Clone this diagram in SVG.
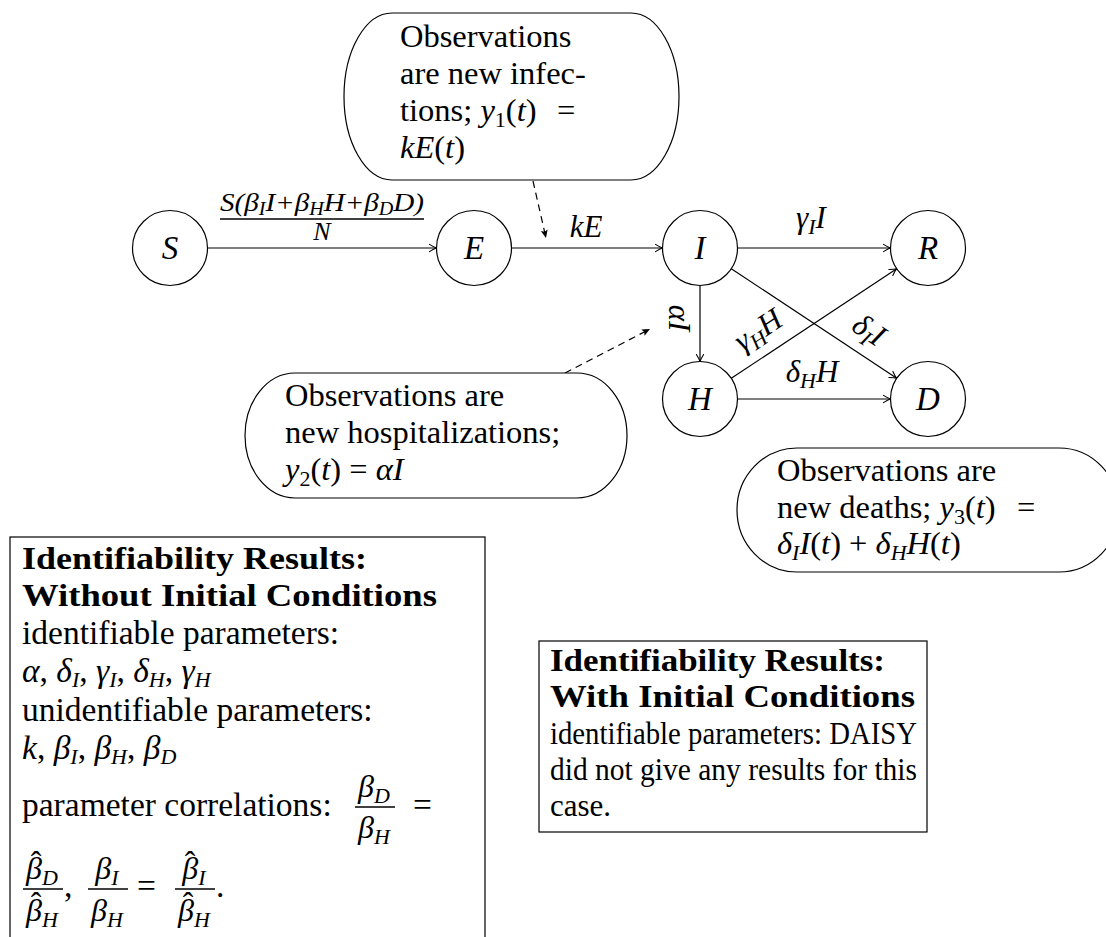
<svg xmlns="http://www.w3.org/2000/svg" width="1106" height="937" viewBox="0 0 1106 937">
<style>
text { font-family: "Liberation Serif", "Times New Roman", serif; fill: #000; }
.tx { font-size: 31px; }
.co { font-size: 32.5px; }
.b1 { font-size: 33.5px; }
.fx { font-size: 32px; }
.i { font-style: italic; }
.b { font-weight: bold; }
.sb { font-size: 22px; }
.nl { font-size: 33px; font-style: italic; text-anchor: middle; }
.el { font-size: 31px; font-style: italic; text-anchor: middle; }
.fr { font-size: 26px; font-style: italic; text-anchor: middle; }
.fs { font-size: 18px; }
.circ { fill: #fff; stroke: #000; stroke-width: 1.2; }
.shape { fill: #fff; stroke: #000; stroke-width: 1.2; }
.edge { fill: none; stroke: #000; stroke-width: 1.2; marker-end: url(#ah); }
.dash { fill: none; stroke: #000; stroke-width: 1.2; stroke-dasharray: 7 5; marker-end: url(#ahf); }
.bar { stroke: #000; stroke-width: 1.3; }
.ma { text-anchor: middle; }
</style>
<defs>
<marker id="ah" markerWidth="12" markerHeight="12" viewBox="-10 -6 12 12" refX="0" refY="0" orient="auto" markerUnits="userSpaceOnUse">
<path d="M-7,-3.6 Q-2.5,-0.8 0,0 Q-2.5,0.8 -7,3.6" fill="none" stroke="#000" stroke-width="1.1" stroke-linecap="round"/>
</marker>
<marker id="ahf" markerWidth="12" markerHeight="12" viewBox="-10 -6 12 12" refX="0" refY="0" orient="auto" markerUnits="userSpaceOnUse">
<path d="M0,0 L-8,-3.5 L-6.5,0 L-8,3.5 Z" fill="#000"/>
</marker>
</defs>
<rect width="1106" height="937" fill="#fff"/>

<g id="connectors">
<line class="edge" x1="207.5" y1="248" x2="436.5" y2="248"/>
<line class="edge" x1="511.5" y1="248" x2="662.5" y2="248"/>
<line class="edge" x1="737.5" y1="248" x2="890.5" y2="248"/>
<line class="edge" x1="700" y1="285.5" x2="700" y2="361.5"/>
<line class="edge" x1="737.5" y1="399" x2="890.5" y2="399"/>
<line class="edge" x1="731.3" y1="268.7" x2="896.7" y2="378.3"/>
<line class="edge" x1="731.3" y1="378.3" x2="896.7" y2="268.7"/>
<line class="dash" x1="533" y1="181" x2="546" y2="238"/>
<line class="dash" x1="565" y1="373" x2="650" y2="329"/>
<g id="edge-labels">
<text class="fr" x="322" y="211" textLength="204" lengthAdjust="spacingAndGlyphs">S(β<tspan class="fs" dy="4">I</tspan><tspan dy="-4">I+β</tspan><tspan class="fs" dy="4">H</tspan><tspan dy="-4">H+β</tspan><tspan class="fs" dy="4">D</tspan><tspan dy="-4">D)</tspan></text>
<line class="bar" x1="220" y1="219" x2="424" y2="219"/>
<text class="fr" x="322" y="240">N</text>
<text class="el" x="586" y="237">kE</text>
<text class="el" x="811" y="228">γ<tspan class="sb" dy="6">I</tspan><tspan dy="-6">I</tspan></text>
<text class="el" x="812" y="382">δ<tspan class="sb" dy="6">H</tspan><tspan dy="-6">H</tspan></text>
<text class="el" transform="translate(679,318) rotate(90)" x="0" y="10">αI</text>
<text class="el" transform="translate(758,330) rotate(-33.5)" x="0" y="10">γ<tspan class="sb" dy="6">H</tspan><tspan dy="-6">H</tspan></text>
<text class="el" transform="translate(869,330) rotate(33.5)" x="0" y="10">δ<tspan class="sb" dy="6">I</tspan><tspan dy="-6">I</tspan></text>
</g>
</g>

<g id="node-S"><circle class="circ" cx="170" cy="248" r="37.5"/><text class="nl" x="170" y="259">S</text></g>
<g id="node-E"><circle class="circ" cx="474" cy="248" r="37.5"/><text class="nl" x="474" y="259">E</text></g>
<g id="node-I"><circle class="circ" cx="700" cy="248" r="37.5"/><text class="nl" x="700" y="259">I</text></g>
<g id="node-R"><circle class="circ" cx="928" cy="248" r="37.5"/><text class="nl" x="928" y="259">R</text></g>
<g id="node-H"><circle class="circ" cx="700" cy="399" r="37.5"/><text class="nl" x="700" y="410">H</text></g>
<g id="node-D"><circle class="circ" cx="928" cy="399" r="37.5"/><text class="nl" x="928" y="410">D</text></g>

<g id="callout-infections">
<rect class="shape" x="344" y="13" width="335" height="167" rx="48" ry="83.5"/>
<text class="co" x="400" y="47">Observations</text>
<text class="co" x="400" y="84">are new infec-</text>
<text class="co" x="400" y="121">tions; <tspan class="i">y</tspan><tspan class="sb" dy="6">1</tspan><tspan dy="-6">(</tspan><tspan class="i">t</tspan>)</text>
<text class="co" x="557" y="121">=</text>
<text class="co" x="400" y="158"><tspan class="i">kE</tspan>(<tspan class="i">t</tspan>)</text>
</g>

<g id="callout-hospitalizations">
<rect class="shape" x="245" y="373" width="382" height="125" rx="50" ry="62.5"/>
<text class="co" x="285" y="406">Observations are</text>
<text class="co" x="285" y="443">new hospitalizations;</text>
<text class="co" x="285" y="480"><tspan class="i">y</tspan><tspan class="sb" dy="6">2</tspan><tspan dy="-6">(</tspan><tspan class="i">t</tspan>) = <tspan class="i">αI</tspan></text>
</g>

<g id="callout-deaths">
<rect class="shape" x="737" y="448" width="382" height="124" rx="60" ry="62"/>
<text class="co" x="777" y="481">Observations are</text>
<text class="co" x="777" y="518">new deaths; <tspan class="i">y</tspan><tspan class="sb" dy="6">3</tspan><tspan dy="-6">(</tspan><tspan class="i">t</tspan>)</text>
<text class="co" x="1017" y="518">=</text>
<text class="co" x="777" y="554"><tspan class="i">δ</tspan><tspan class="sb i" dy="6">I</tspan><tspan class="i" dy="-6">I</tspan>(<tspan class="i">t</tspan>) + <tspan class="i">δ</tspan><tspan class="sb i" dy="6">H</tspan><tspan class="i" dy="-6">H</tspan>(<tspan class="i">t</tspan>)</text>
</g>

<g id="box-without-ic">
<rect class="shape" x="10" y="537" width="475" height="420"/>
<text class="tx b" x="22" y="569" textLength="345" lengthAdjust="spacingAndGlyphs">Identifiability Results:</text>
<text class="tx b" x="22" y="606" textLength="415" lengthAdjust="spacingAndGlyphs">Without Initial Conditions</text>
<text class="b1" x="22" y="644">identifiable parameters:</text>
<text class="b1" x="22" y="682"><tspan class="i">α</tspan>, <tspan class="i">δ</tspan><tspan class="sb i" dy="5">I</tspan><tspan dy="-5">, </tspan><tspan class="i">γ</tspan><tspan class="sb i" dy="5">I</tspan><tspan dy="-5">, </tspan><tspan class="i">δ</tspan><tspan class="sb i" dy="5">H</tspan><tspan dy="-5">, </tspan><tspan class="i">γ</tspan><tspan class="sb i" dy="5">H</tspan></text>
<text class="b1" x="22" y="721">unidentifiable parameters:</text>
<text class="b1" x="22" y="759"><tspan class="i">k</tspan>, <tspan class="i">β</tspan><tspan class="sb i" dy="5">I</tspan><tspan dy="-5">, </tspan><tspan class="i">β</tspan><tspan class="sb i" dy="5">H</tspan><tspan dy="-5">, </tspan><tspan class="i">β</tspan><tspan class="sb i" dy="5">D</tspan></text>
<text class="b1" x="22" y="816">parameter correlations:</text>
<text class="fx ma" x="374" y="797"><tspan class="i">β</tspan><tspan class="sb i" dy="6">D</tspan></text>
<line class="bar" x1="355" y1="807" x2="395" y2="807"/>
<text class="fx ma" x="374" y="838"><tspan class="i">β</tspan><tspan class="sb i" dy="6">H</tspan></text>
<text class="b1" x="413" y="816">=</text>
<text class="fx ma"><tspan x="42" y="879"><tspan class="i">β</tspan><tspan class="sb i" dy="6">D</tspan></tspan><tspan x="36" y="873">ˆ</tspan></text>
<line class="bar" x1="23" y1="889" x2="63" y2="889"/>
<text class="fx ma"><tspan x="42" y="921"><tspan class="i">β</tspan><tspan class="sb i" dy="6">H</tspan></tspan><tspan x="36" y="914">ˆ</tspan></text>
<text class="b1" x="64" y="897">,</text>
<text class="fx ma" x="107" y="879"><tspan class="i">β</tspan><tspan class="sb i" dy="6">I</tspan></text>
<line class="bar" x1="88" y1="889" x2="128" y2="889"/>
<text class="fx ma" x="107" y="921"><tspan class="i">β</tspan><tspan class="sb i" dy="6">H</tspan></text>
<text class="b1" x="137" y="897">=</text>
<text class="fx ma"><tspan x="194" y="879"><tspan class="i">β</tspan><tspan class="sb i" dy="6">I</tspan></tspan><tspan x="190" y="873">ˆ</tspan></text>
<line class="bar" x1="175" y1="889" x2="215" y2="889"/>
<text class="fx ma"><tspan x="194" y="921"><tspan class="i">β</tspan><tspan class="sb i" dy="6">H</tspan></tspan><tspan x="188" y="914">ˆ</tspan></text>
<text class="b1" x="216" y="897">.</text>
</g>

<g id="box-with-ic">
<rect class="shape" x="539" y="641" width="388" height="191"/>
<text class="tx b" x="550" y="671" textLength="335" lengthAdjust="spacingAndGlyphs">Identifiability Results:</text>
<text class="tx b" x="550" y="707" textLength="365" lengthAdjust="spacingAndGlyphs">With Initial Conditions</text>
<text class="tx" x="550" y="744" textLength="367" lengthAdjust="spacingAndGlyphs">identifiable parameters: DAISY</text>
<text class="tx" x="550" y="780" textLength="367" lengthAdjust="spacingAndGlyphs">did not give any results for this</text>
<text class="tx" x="550" y="816">case.</text>
</g>
</svg>
